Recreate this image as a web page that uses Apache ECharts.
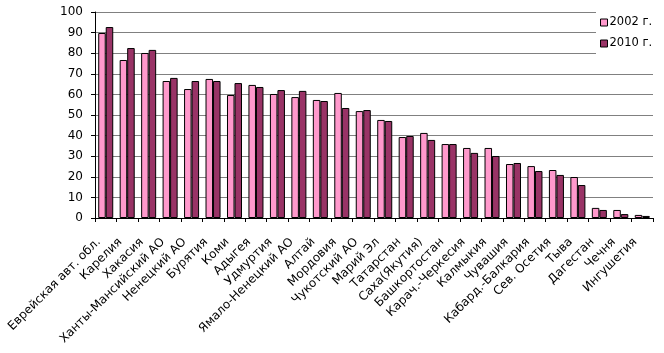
<!DOCTYPE html>
<html><head><meta charset="utf-8">
<script src="https://cdn.jsdelivr.net/npm/echarts@6/dist/echarts.min.js"></script>
<style>html,body{margin:0;padding:0;background:#fff}#c{width:664px;height:353px}</style>
</head><body><div id="c"></div>
<script>
const categories = ["Еврейская авт. обл.","Карелия","Хакасия","Ханты-Мансийский АО","Ненецкий АО","Бурятия","Коми","Адыгея","Удмуртия","Ямало-Ненецкий АО","Алтай","Мордовия","Чукотский АО","Марий Эл","Татарстан","Саха(Якутия)","Башкортостан","Карач.-Черкесия","Калмыкия","Чувашия","Кабард.-Балкария","Сев. Осетия","Тыва","Дагестан","Чечня","Ингушетия"];
const values2002 = [89.8,76.7,80.1,66.5,62.6,67.5,59.7,64.6,60.2,58.7,57.3,60.7,51.9,47.6,39.3,41.3,35.9,34.0,34.0,26.2,25.2,23.3,19.9,4.9,3.9,1.5];
const values2010 = [92.7,82.5,81.6,68.0,66.5,66.5,65.5,63.6,62.1,61.7,56.8,53.4,52.4,47.1,39.8,37.9,35.9,31.6,30.1,26.7,22.8,20.9,16.0,3.9,1.9,1.0];
const seriesNames = ["2002 г.","2010 г."];
const yTicks = {min:0,max:100,interval:10};

const FONT = '"DejaVu Sans", Arial, sans-serif';
const chart = echarts.init(document.getElementById('c'));
chart.setOption({
  animation:false,
  textStyle:{fontFamily:FONT},
  grid:{left:95,right:11,top:12,bottom:135},
  legend:{
    orient:'vertical', left:596, top:8, itemWidth:7, itemHeight:7, itemGap:8,
    backgroundColor:'#fff', padding:[8,4,7,4],
    textStyle:{fontSize:11.5,color:'#000',fontFamily:FONT,padding:[0,0,0,-3],lineHeight:13},
    icon:'rect',
    data:seriesNames.map(n=>({name:n,itemStyle:{borderColor:'#000',borderWidth:1}}))
  },
  xAxis:{
    type:'category', data:categories,
    axisLine:{lineStyle:{color:'#000',width:1}},
    axisTick:{show:true,alignWithLabel:false,length:4,lineStyle:{color:'#000'}},
    axisLabel:{rotate:45,interval:0,fontSize:12,color:'#000',margin:15,padding:[0,10,0,0],fontFamily:FONT}
  },
  yAxis:{
    type:'value', min:yTicks.min, max:yTicks.max, interval:yTicks.interval,
    axisLine:{show:true,lineStyle:{color:'#000'}},
    axisTick:{show:true,length:4,lineStyle:{color:'#000'}},
    axisLabel:{fontSize:12,color:'#000',margin:12,fontFamily:FONT},
    splitLine:{lineStyle:{color:'#808080',width:1}}
  },
  series:[
    {name:seriesNames[0],type:'bar',data:values2002,barGap:'0%',barCategoryGap:'30%',
     itemStyle:{color:'#FF99CC',borderColor:'#000',borderWidth:1}},
    {name:seriesNames[1],type:'bar',data:values2010,
     itemStyle:{color:'#993366',borderColor:'#000',borderWidth:1}}
  ]
});
</script></body></html>
